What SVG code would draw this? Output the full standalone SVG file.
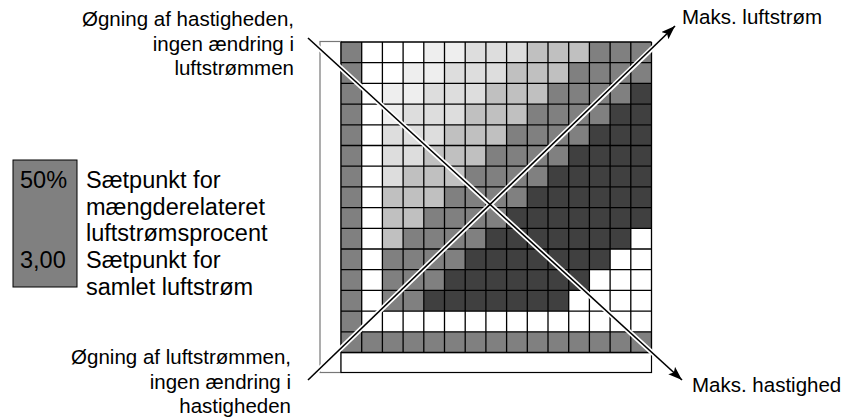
<svg xmlns="http://www.w3.org/2000/svg" width="853" height="418" viewBox="0 0 853 418">
<style>
  text { font-family: "Liberation Sans", Arial, sans-serif; fill: #000; }
  .lbl { font-size: 20.5px; }
  .leg { font-size: 23.5px; }
  .e { fill: #eeeeee; }
  .d { fill: #dddddd; }
  .c { fill: #c0c0c0; }
  .m { fill: #808080; }
  .k { fill: #404040; }
  .halo { stroke: #fff; stroke-width: 5; fill: none; }
  .arrow { stroke: #000; stroke-width: 1.6; fill: none; marker-end: url(#ah); }
</style>
<defs>
  <marker id="ah" markerUnits="userSpaceOnUse" markerWidth="16" markerHeight="12" refX="14" refY="5" orient="auto">
    <path d="M0,0 L14,5 L0,10 L3,5 z" fill="#000"/>
  </marker>
</defs>
<rect width="853" height="418" fill="#fff"/>

<g id="frame">
  <rect x="320" y="41.5" width="21" height="331" fill="#fff" stroke="#777" stroke-width="1.2"/>
  <rect x="341" y="352.5" width="310.5" height="20" fill="#fff" stroke="#000" stroke-width="1.2"/>
</g>

<g id="grid">
  <rect x="341" y="42" width="310.5" height="310.5" fill="#fff"/>
  <rect class="m" x="341" y="42" width="20.7" height="310.5"/>
  <rect class="m" x="341" y="331.8" width="310.5" height="20.7"/>
  <!-- row 0 -->
  <rect class="e" x="423.8" y="42" width="41.4" height="20.7"/>
  <rect class="d" x="465.2" y="42" width="62.1" height="20.7"/>
  <rect class="c" x="527.3" y="42" width="62.1" height="20.7"/>
  <rect class="m" x="589.4" y="42" width="62.1" height="20.7"/>
  <!-- row 1 -->
  <rect class="e" x="403.1" y="62.7" width="41.4" height="20.7"/>
  <rect class="d" x="444.5" y="62.7" width="62.1" height="20.7"/>
  <rect class="c" x="506.6" y="62.7" width="62.1" height="20.7"/>
  <rect class="m" x="568.7" y="62.7" width="82.8" height="20.7"/>
  <!-- row 2 -->
  <rect class="e" x="382.4" y="83.4" width="41.4" height="20.7"/>
  <rect class="d" x="423.8" y="83.4" width="62.1" height="20.7"/>
  <rect class="c" x="485.9" y="83.4" width="62.1" height="20.7"/>
  <rect class="m" x="548" y="83.4" width="82.8" height="20.7"/>
  <rect class="k" x="630.8" y="83.4" width="20.7" height="20.7"/>
  <!-- row 3 -->
  <rect class="e" x="382.4" y="104.1" width="20.7" height="20.7"/>
  <rect class="d" x="403.1" y="104.1" width="62.1" height="20.7"/>
  <rect class="c" x="465.2" y="104.1" width="62.1" height="20.7"/>
  <rect class="m" x="527.3" y="104.1" width="82.8" height="20.7"/>
  <rect class="k" x="610.1" y="104.1" width="41.4" height="20.7"/>
  <!-- row 4 -->
  <rect class="d" x="382.4" y="124.8" width="62.1" height="20.7"/>
  <rect class="c" x="444.5" y="124.8" width="62.1" height="20.7"/>
  <rect class="m" x="506.6" y="124.8" width="82.8" height="20.7"/>
  <rect class="k" x="589.4" y="124.8" width="62.1" height="20.7"/>
  <!-- row 5 -->
  <rect class="d" x="382.4" y="145.5" width="41.4" height="20.7"/>
  <rect class="c" x="423.8" y="145.5" width="62.1" height="20.7"/>
  <rect class="m" x="485.9" y="145.5" width="82.8" height="20.7"/>
  <rect class="k" x="568.7" y="145.5" width="82.8" height="20.7"/>
  <!-- row 6 -->
  <rect class="d" x="382.4" y="166.2" width="20.7" height="20.7"/>
  <rect class="c" x="403.1" y="166.2" width="62.1" height="20.7"/>
  <rect class="m" x="465.2" y="166.2" width="82.8" height="20.7"/>
  <rect class="k" x="548" y="166.2" width="103.5" height="20.7"/>
  <!-- row 7 -->
  <rect class="c" x="382.4" y="186.9" width="62.1" height="20.7"/>
  <rect class="m" x="444.5" y="186.9" width="82.8" height="20.7"/>
  <rect class="k" x="527.3" y="186.9" width="124.2" height="20.7"/>
  <!-- row 8 -->
  <rect class="c" x="382.4" y="207.6" width="41.4" height="20.7"/>
  <rect class="m" x="423.8" y="207.6" width="82.8" height="20.7"/>
  <rect class="k" x="506.6" y="207.6" width="144.9" height="20.7"/>
  <!-- row 9 -->
  <rect class="c" x="382.4" y="228.3" width="20.7" height="20.7"/>
  <rect class="m" x="403.1" y="228.3" width="82.8" height="20.7"/>
  <rect class="k" x="485.9" y="228.3" width="144.9" height="20.7"/>
  <!-- row 10 -->
  <rect class="m" x="382.4" y="249" width="82.8" height="20.7"/>
  <rect class="k" x="465.2" y="249" width="144.9" height="20.7"/>
  <!-- row 11 -->
  <rect class="m" x="382.4" y="269.7" width="62.1" height="20.7"/>
  <rect class="k" x="444.5" y="269.7" width="144.9" height="20.7"/>
  <!-- row 12 -->
  <rect class="m" x="382.4" y="290.4" width="41.4" height="20.7"/>
  <rect class="k" x="423.8" y="290.4" width="144.9" height="20.7"/>
  <path fill="none" stroke="#000" stroke-width="1.3" d="M341,42V352.5 M361.7,42V352.5 M382.4,42V352.5 M403.1,42V352.5 M423.8,42V352.5 M444.5,42V352.5 M465.2,42V352.5 M485.9,42V352.5 M506.6,42V352.5 M527.3,42V352.5 M548,42V352.5 M568.7,42V352.5 M589.4,42V352.5 M610.1,42V352.5 M630.8,42V352.5 M651.5,42V352.5 M341,42H651.5 M341,62.7H651.5 M341,83.4H651.5 M341,104.1H651.5 M341,124.8H651.5 M341,145.5H651.5 M341,166.2H651.5 M341,186.9H651.5 M341,207.6H651.5 M341,228.3H651.5 M341,249H651.5 M341,269.7H651.5 M341,290.4H651.5 M341,311.1H651.5 M341,331.8H651.5 M341,352.5H651.5"/>
</g>

<g id="connectors">
  <line class="halo" x1="309" y1="39" x2="670" y2="369"/>
  <line class="halo" x1="309" y1="379" x2="664" y2="37"/>
  <line class="arrow" x1="308" y1="38" x2="682" y2="380"/>
  <line class="arrow" x1="308" y1="380" x2="675" y2="26"/>
</g>

<g id="label-top-left" class="lbl" text-anchor="end">
  <text x="294" y="26">Øgning af hastigheden,</text>
  <text x="294" y="51">ingen ændring i</text>
  <text x="294" y="75">luftstrømmen</text>
</g>
<g id="label-bottom-left" class="lbl" text-anchor="end">
  <text x="291" y="364">Øgning af luftstrømmen,</text>
  <text x="291" y="389">ingen ændring i</text>
  <text x="291" y="413">hastigheden</text>
</g>
<g id="label-max-airflow" class="lbl">
  <text x="682" y="24">Maks. luftstrøm</text>
</g>
<g id="label-max-speed" class="lbl">
  <text x="692" y="392">Maks. hastighed</text>
</g>

<g id="legend">
  <rect x="13" y="160" width="64" height="127" fill="#808080" stroke="#000" stroke-width="1"/>
  <text class="leg" x="20" y="188">50%</text>
  <text class="leg" x="20" y="268">3,00</text>
  <text class="leg" x="86" y="188">Sætpunkt for</text>
  <text class="leg" x="86" y="214.5">mængderelateret</text>
  <text class="leg" x="86" y="241">luftstrømsprocent</text>
  <text class="leg" x="86" y="268">Sætpunkt for</text>
  <text class="leg" x="86" y="294.5">samlet luftstrøm</text>
</g>
</svg>
